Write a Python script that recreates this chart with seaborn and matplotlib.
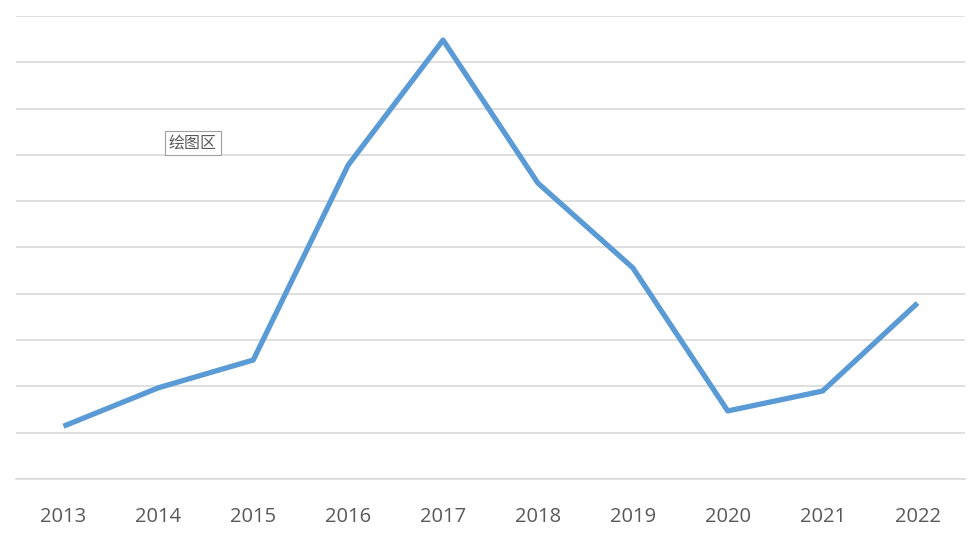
import matplotlib
matplotlib.use("Agg")
import matplotlib.pyplot as plt
import seaborn as sns
import pandas as pd

years = ["2013","2014","2015","2016","2017","2018","2019","2020","2021","2022"]
values = [1.14, 1.97, 2.57, 6.78, 9.48, 6.39, 4.56, 1.47, 1.90, 3.80]

sns.set_style("white")
plt.rcParams['font.family'] = ['Noto Sans CJK SC', 'DejaVu Sans']

fig = plt.figure(figsize=(9.75, 5.38), dpi=100)
ax = fig.add_axes([16/975, 59/538, 949/975, 463/538])
df = pd.DataFrame({"year": range(len(years)), "v": values})
sns.lineplot(data=df, x="year", y="v", ax=ax, color="#5B9BD5", linewidth=3.8, solid_capstyle="butt")
ax.set_xlim(-0.5, len(years)-0.5)
ax.set_ylim(0, 10)
ax.set_yticks(range(0, 11))
ax.set_yticklabels([])
ax.tick_params(axis="y", length=0)
ax.set_xticks(range(len(years)))
ax.set_xticklabels(years, color="#595959", fontsize=14.5, family=["Open Sans"])
ax.tick_params(axis="x", length=0, pad=20)
ax.grid(axis="y", color="#D9D9D9", linewidth=1.2)
ax.set_axisbelow(True)
for s in ["top", "right", "left"]:
    ax.spines[s].set_visible(False)
ax.spines["bottom"].set_color("#D9D9D9")
ax.spines["bottom"].set_linewidth(1.2)
ax.set_xlabel("")
ax.set_ylabel("")
fig.text(169/975, 1-143/538, "绘图区", fontsize=11.5, color="#595959", va="center", ha="left",
         bbox=dict(boxstyle="square,pad=0.25", fc="white", ec="#A0A0A0", lw=0.8))
fig.savefig("out.png", dpi=100)
